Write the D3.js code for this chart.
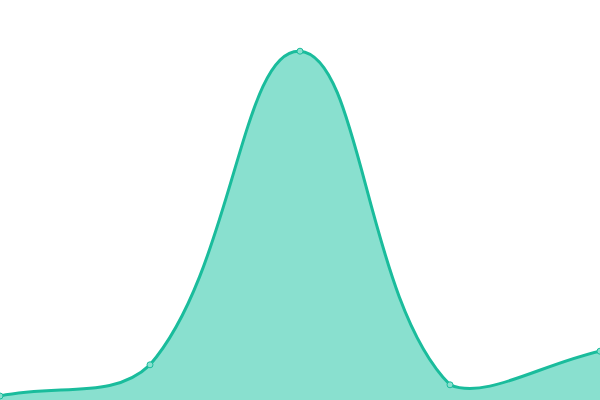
<!DOCTYPE html>
<html>
<head>
<meta charset="utf-8">
<script src="https://cdn.jsdelivr.net/npm/d3@7"></script>
<style>
  body { margin: 0; background: #fff; }
  svg { display: block; }
</style>
</head>
<body>
<svg id="chart" width="600" height="400"></svg>
<script>
var labels = ['A', 'B', 'C', 'D', 'E'];
var values = [1, 8.8, 87.2, 3.8, 12.2];

var width = 600, height = 400;
var tension = 0.4;
var svg = d3.select('#chart');

var x = d3.scalePoint().domain(labels).range([0, width]);
var y = d3.scaleLinear().domain([0, 100]).range([height, 0]);

var pts = labels.map(function(l, i) { return { x: x(l), y: y(values[i]) }; });

// spline control points, tension based
function controlPoints(points) {
  let cps = [];
  for (let i = 0; i < points.length; i++) {
    let prev = points[Math.max(i - 1, 0)];
    let cur = points[i];
    let next = points[Math.min(i + 1, points.length - 1)];
    let d01 = Math.hypot(cur.x - prev.x, cur.y - prev.y);
    let d12 = Math.hypot(next.x - cur.x, next.y - cur.y);
    let s01 = d01 / (d01 + d12) || 0;
    let s12 = d12 / (d01 + d12) || 0;
    let fa = tension * s01, fb = tension * s12;
    let cap = function(v, max) { return Math.max(0, Math.min(max, v)); };
    cps.push({
      px: cap(cur.x - fa * (next.x - prev.x), width),
      py: cap(cur.y - fa * (next.y - prev.y), height),
      nx: cap(cur.x + fb * (next.x - prev.x), width),
      ny: cap(cur.y + fb * (next.y - prev.y), height)
    });
  }
  return cps;
}

var cps = controlPoints(pts);

function linePath(closeArea) {
  let p = d3.path();
  p.moveTo(pts[0].x, pts[0].y);
  for (let i = 1; i < pts.length; i++) {
    p.bezierCurveTo(cps[i - 1].nx, cps[i - 1].ny, cps[i].px, cps[i].py, pts[i].x, pts[i].y);
  }
  if (closeArea) {
    p.lineTo(pts[pts.length - 1].x, y(0));
    p.lineTo(pts[0].x, y(0));
    p.closePath();
  }
  return p.toString();
}

svg.append('path')
  .attr('d', linePath(true))
  .attr('fill', '#89e0cf');

svg.append('path')
  .attr('d', linePath(false))
  .attr('fill', 'none')
  .attr('stroke', '#1abc9c')
  .attr('stroke-width', 3);

svg.selectAll('circle')
  .data(pts)
  .enter().append('circle')
  .attr('cx', function(d) { return d.x; })
  .attr('cy', function(d) { return d.y; })
  .attr('r', 3)
  .attr('fill', '#89e0cf')
  .attr('stroke', '#1abc9c')
  .attr('stroke-width', 1);
</script>
</body>
</html>
